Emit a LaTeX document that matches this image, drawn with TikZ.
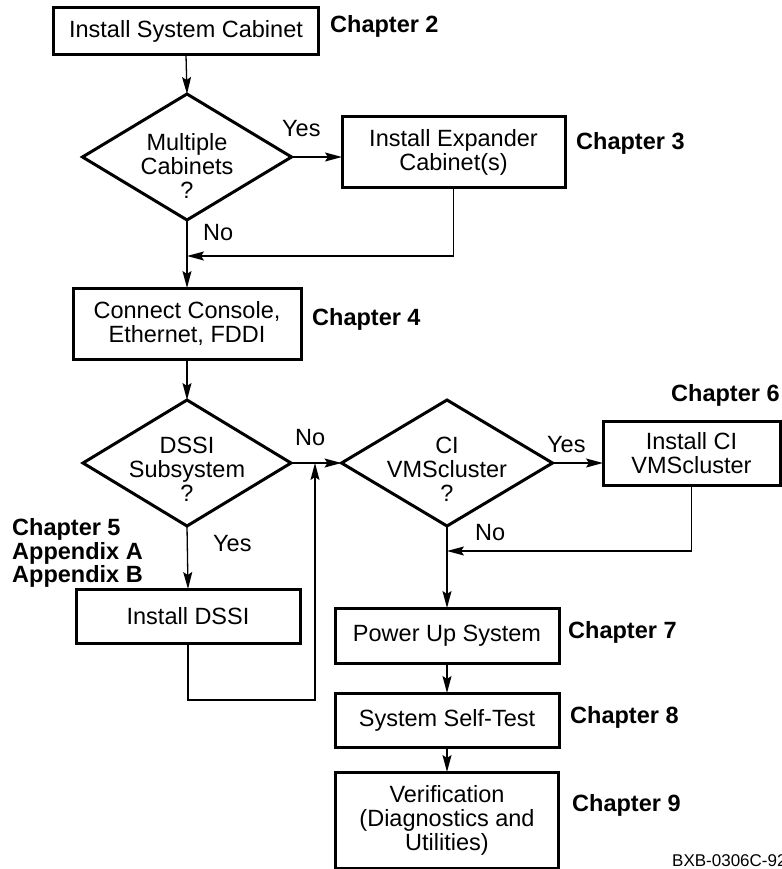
\documentclass[tikz,border=0pt]{standalone}
\usepackage{fontspec}
\setmainfont{Liberation Sans}
\usetikzlibrary{shapes.geometric,arrows.meta}
\begin{document}
\begin{tikzpicture}[x=1pt,y=-1pt,
  every node/.style={font=\fontsize{23.5}{24}\selectfont},
  box/.style={draw, line width=3pt, inner sep=0pt, outer sep=0pt, align=center},
  dia/.style={diamond, draw, line width=3pt, inner sep=0pt, outer sep=0pt},
  dtext/.style={align=center, inner sep=0pt},
  lbl/.style={inner sep=0pt, anchor=base west},
  chap/.style={lbl, font=\fontsize{23.5}{24}\selectfont\bfseries},
  conn/.style={line width=1.3pt},
  arr/.style={conn, -{Stealth[length=17pt,width=9pt,inset=3pt]}}]
\useasboundingbox (0,0) rectangle (781,869);

% nodes
\node[box, minimum width=265pt, minimum height=47pt] (b1) at (186,31.5) {Install System Cabinet};
\node[dia, minimum width=209pt, minimum height=126pt] (d1) at (187,157) {};
\node[dtext] (t1) at (187,166) {Multiple\\Cabinets\\?};
\node[box, minimum width=223pt, minimum height=70pt] (b2) at (453.5,152) {Install Expander\\Cabinet(s)};
\node[box, minimum width=228pt, minimum height=71pt] (b3) at (187,323.5) {Connect Console,\\Ethernet, FDDI};
\node[dia, minimum width=208pt, minimum height=126pt] (d2) at (187,463) {};
\node[dtext] (t2) at (187,469) {DSSI\\Subsystem\\?};
\node[dia, minimum width=211pt, minimum height=126pt] (d3) at (447,463) {};
\node[dtext] (t3) at (447,469) {CI\\VMScluster\\?};
\node[box, minimum width=177pt, minimum height=64pt] (b4) at (691.5,453) {Install CI\\VMScluster};
\node[box, minimum width=224pt, minimum height=54pt] (b5) at (188,616) {Install DSSI};
\node[box, minimum width=224pt, minimum height=55pt] (b6) at (447,635.5) {Power Up System};
\node[box, minimum width=224pt, minimum height=54pt] (b7) at (447,720) {System Self-Test};
\node[box, minimum width=223pt, minimum height=96pt] (b8) at (447,820) {Verification\\(Diagnostics and\\Utilities)};

% labels
\node[chap] (c2) at (330,33) {Chapter 2};
\node[chap] (c3) at (576,150) {Chapter 3};
\node[chap] (c4) at (312,325) {Chapter 4};
\node[chap] (c6) at (671,401) {Chapter 6};
\node[chap] (c5a) at (12,535) {Chapter 5};
\node[chap] (c5b) at (12,559) {Appendix A};
\node[chap] (c5c) at (12,582) {Appendix B};
\node[chap] (c7) at (568,638) {Chapter 7};
\node[chap] (c8) at (570,723) {Chapter 8};
\node[chap] (c9) at (572,811) {Chapter 9};
\node[lbl] (y1) at (282,137) {Yes};
\node[lbl] (n1) at (203,240) {No};
\node[lbl] (n2) at (295,445) {No};
\node[lbl] (y3) at (547,452) {Yes};
\node[lbl] (n3) at (475,540) {No};
\node[lbl] (y2) at (213,551) {Yes};
\node[lbl, font=\fontsize{17}{18}\selectfont] (id) at (672,866) {BXB-0306C-92};

% junction coordinates
\coordinate (j1) at (187,256);
\coordinate (j2) at (315,700);
\coordinate (j3) at (447,551);

% connectors
\draw[arr] (b1.south) -- (d1.north);
\draw[arr] (d1.east) -- (d1.east -| b2.west);
\draw[arr] (d1.south) -- (b3.north);
\draw[arr] (b2.south) -- (b2.south |- j1) -- (j1);
\draw[arr] (b3.south) -- (d2.north);
\draw[arr] (d2.east) -- (d3.west);
\draw[arr] (d2.south) -- (b5.north);
\draw[arr] (b5.south) -- (b5.south |- j2) -- (j2) -- (j2 |- d2.east);
\draw[arr] (d3.east) -- (d3.east -| b4.west);
\draw[arr] (b4.south) -- (b4.south |- j3) -- (j3);
\draw[arr] (d3.south) -- (b6.north);
\draw[arr] (b6.south) -- (b7.north);
\draw[arr] (b7.south) -- (b8.north);
\end{tikzpicture}
\end{document}
